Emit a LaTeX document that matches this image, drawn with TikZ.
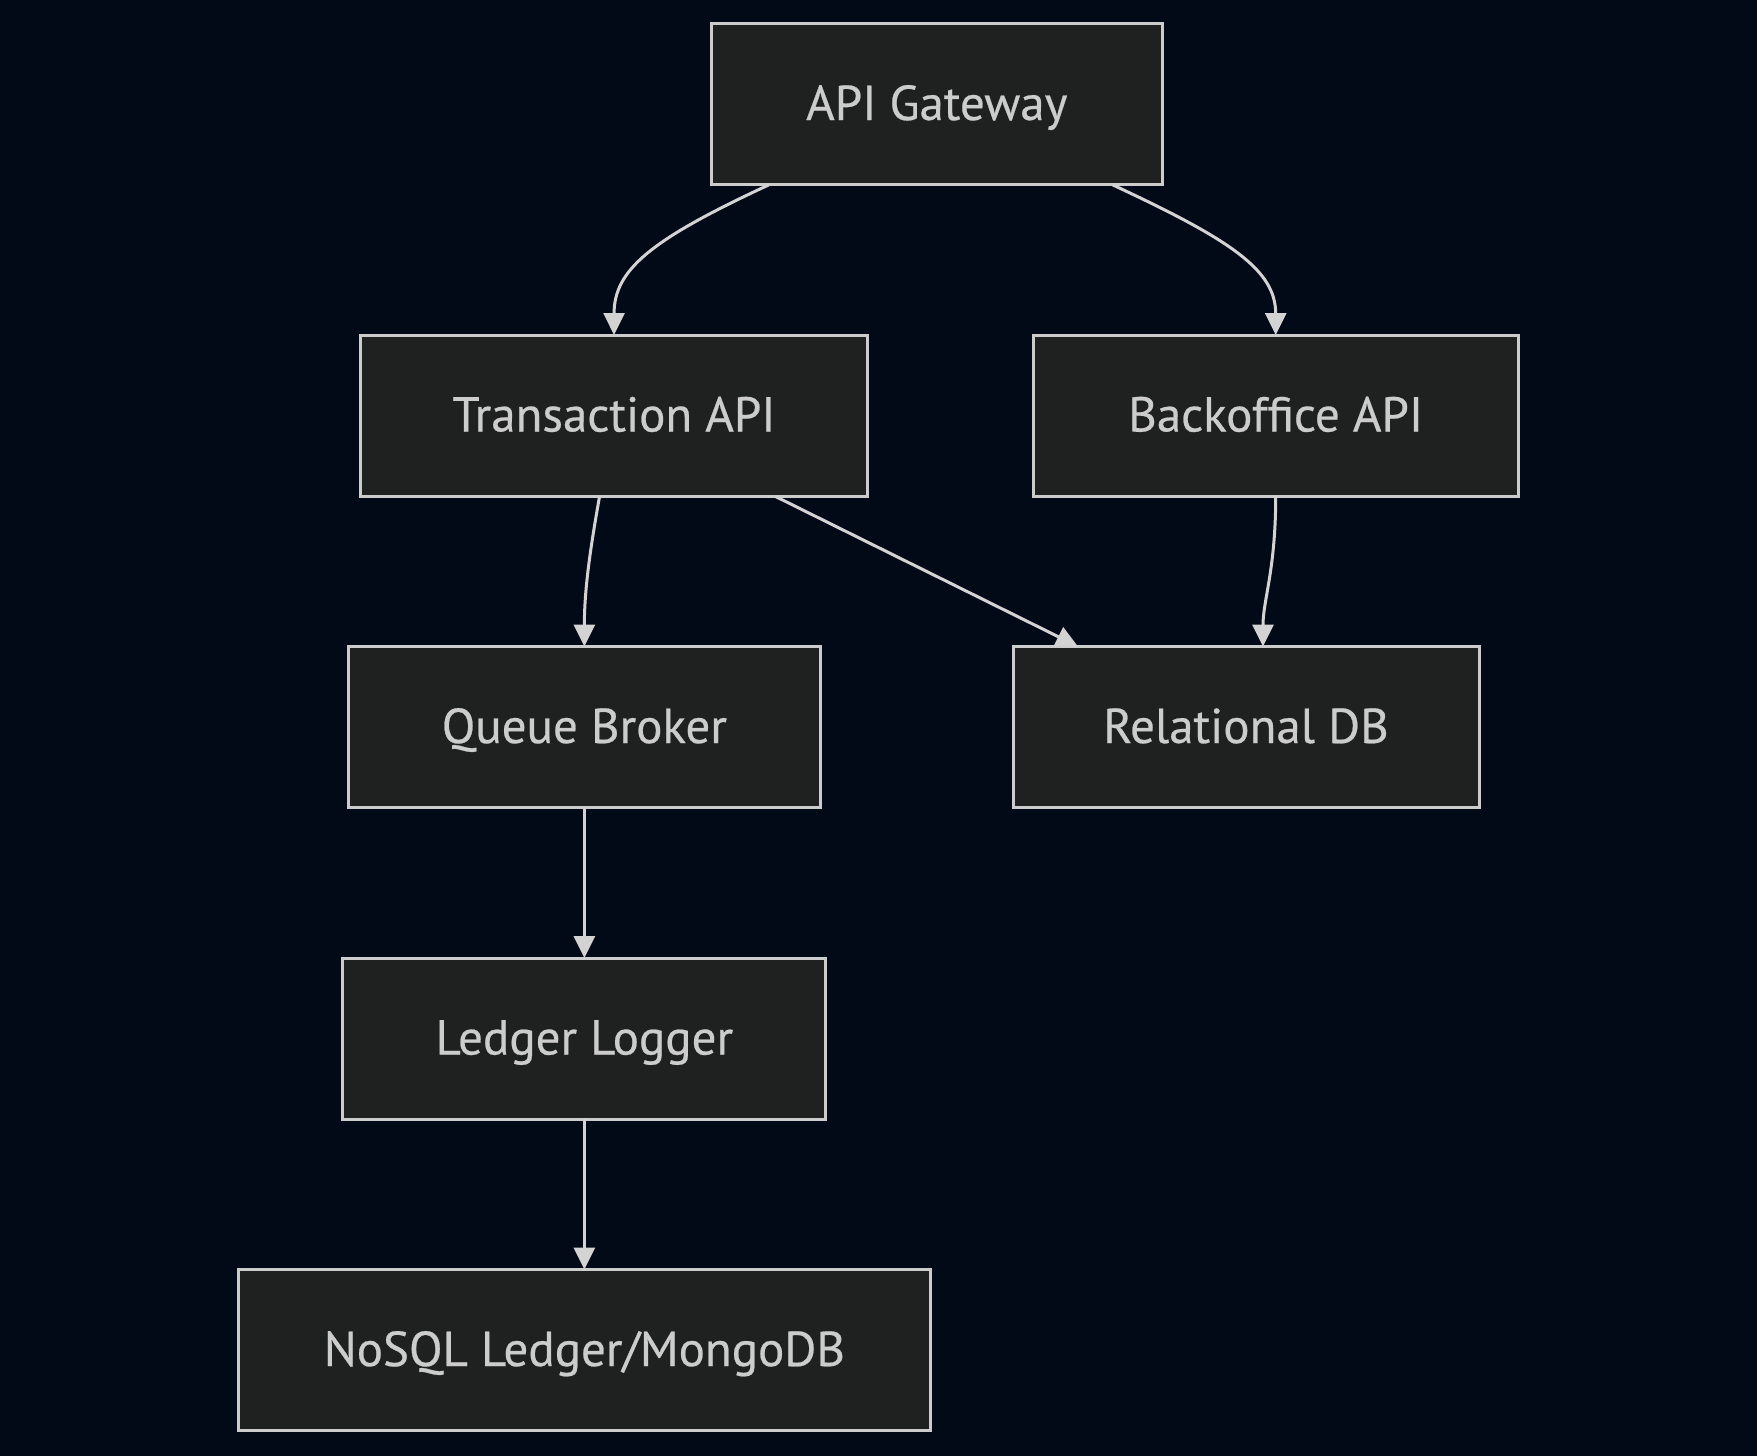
\documentclass[tikz,border=0pt]{standalone}
\usepackage{fontspec}
\setmainfont{PT Sans}
\newfontfamily\nodefont{PT Sans}[FakeBold=0.5]
\usetikzlibrary{arrows.meta}
\definecolor{bgc}{RGB}{2,9,23}
\definecolor{boxfill}{RGB}{31,32,32}
\definecolor{boxline}{RGB}{204,204,204}
\definecolor{txt}{RGB}{204,204,204}
\definecolor{edgec}{RGB}{211,211,211}
\tikzset{
  box/.style={draw=boxline, fill=boxfill, line width=3pt, inner sep=0pt, outer sep=0pt,
    minimum height=161.4pt, text=txt, text height=40pt, text depth=8.4pt,
    font=\nodefont\fontsize{49}{58}\selectfont},
  arr/.style={draw=edgec, line width=3pt, -{Triangle[length=22pt,width=21pt]}}
}
\begin{document}
\begin{tikzpicture}[x=1pt,y=-1pt]
\fill[bgc] (0,0) rectangle (1757,1456);
\useasboundingbox (0,0) rectangle (1757,1456);
\node[box, minimum width=450.5pt] (api) at (936.75,104.2) {API Gateway};
\node[box, minimum width=506.5pt] (trans) at (614.05,415.7) {Transaction API};
\node[box, minimum width=485.2pt] (back) at (1275.7,415.7) {Backoffice API};
\node[box, minimum width=471.7pt] (queue) at (584.35,727.2) {Queue Broker};
\node[box, minimum width=466pt] (rel) at (1246,727.2) {Relational DB};
\node[box, minimum width=482.9pt] (ledger) at (584.35,1038.7) {Ledger Logger};
\node[box, minimum width=691.3pt] (nosql) at (584.35,1350.2) {NoSQL Ledger/MongoDB};
\draw[arr] ([xshift=-168pt]api.south) .. controls (650,240) and (614.05,270) .. (trans.north);
\draw[arr] ([xshift=176pt]api.south) .. controls (1231,240) and (1275.7,270) .. (back.north);
\draw[arr] ([xshift=-14.5pt]trans.south) .. controls (590,550) and (584.35,590) .. (queue.north);
\draw[arr] ([xshift=161.3pt]trans.south) -- ([xshift=-168pt]rel.north);
\draw[arr] (back.south) .. controls (1275.7,570) and (1263,600) .. ([xshift=17pt]rel.north);
\draw[arr] (queue.south) -- (ledger.north);
\draw[arr] (ledger.south) -- (nosql.north);
\end{tikzpicture}
\end{document}
